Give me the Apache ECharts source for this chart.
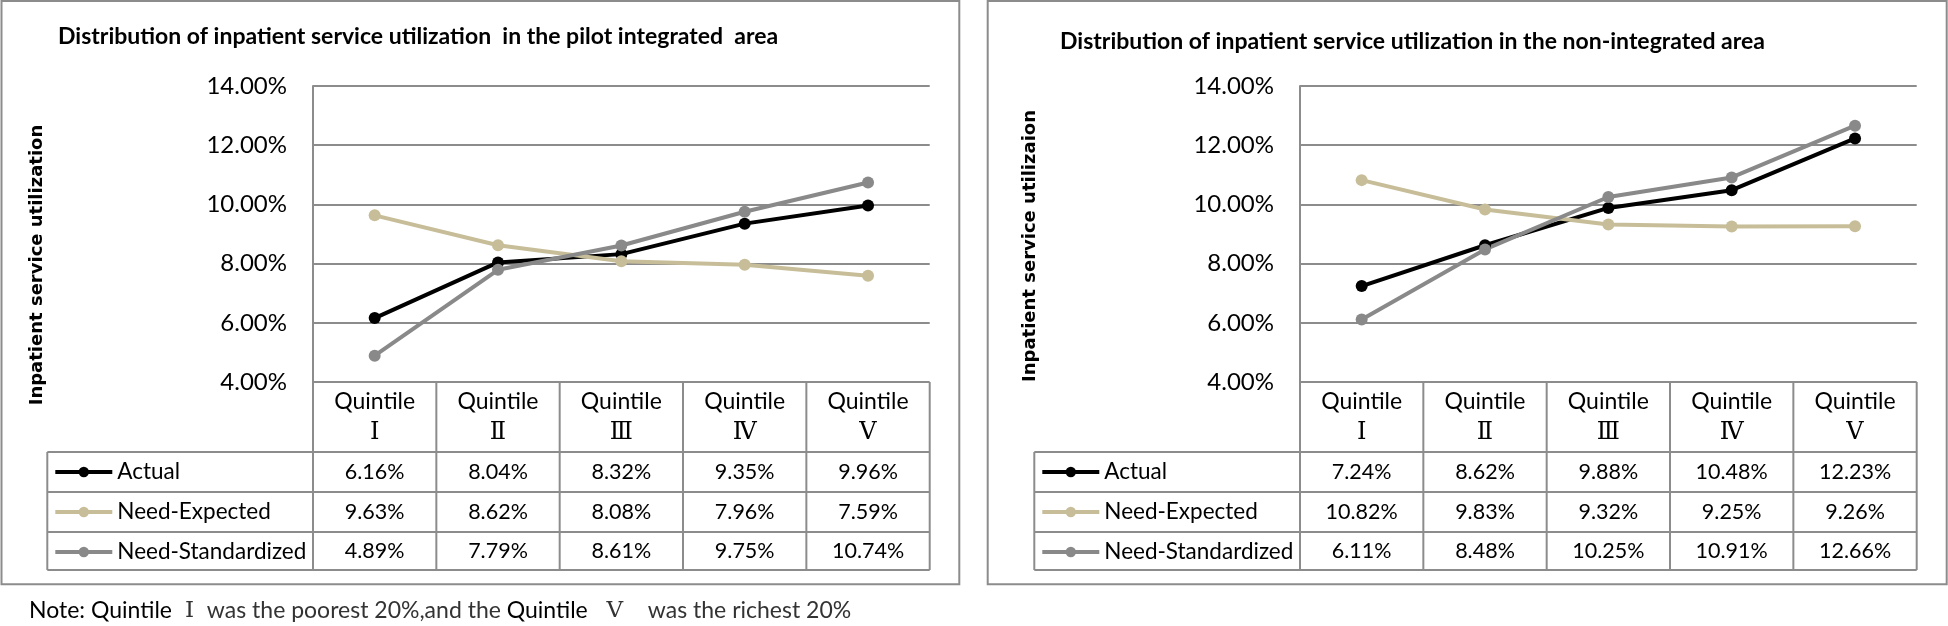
<!DOCTYPE html>
<html><head><meta charset="utf-8">
<script src="https://cdn.jsdelivr.net/npm/echarts@6/dist/echarts.min.js"></script>
<style>html,body{margin:0;padding:0;background:#fff}#c{width:1948px;height:626px}</style>
</head><body><div id="c"></div>
<script>
// ---- data ----
const categories = ['Ⅰ', 'Ⅱ', 'Ⅲ', 'Ⅳ', 'Ⅴ'];
const seriesNames = ['Actual', 'Need-Expected', 'Need-Standardized'];
const pilotActual = [6.16, 8.04, 8.32, 9.35, 9.96];
const pilotNeedExpected = [9.63, 8.62, 8.08, 7.96, 7.59];
const pilotNeedStandardized = [4.89, 7.79, 8.61, 9.75, 10.74];
const nonActual = [7.24, 8.62, 9.88, 10.48, 12.23];
const nonNeedExpected = [10.82, 9.83, 9.32, 9.25, 9.26];
const nonNeedStandardized = [6.11, 8.48, 10.25, 10.91, 12.66];
const yMin = 4, yMax = 14, yStep = 2;
const panelTitles = ['Distribution of inpatient service utilization  in the pilot integrated  area',
                     'Distribution of inpatient service utilization in the non-integrated area'];
const yTitles = ['Inpatient service utilization', 'Inpatient service utilizaion'];
const catPrefix = 'Quintile';

// ---- styles / layout ----
const colors = ['#000000', '#c7be99', '#898989'];
const GRID_C = '#8c8c8c';
const FONT = 'Lato, "Open Sans", sans-serif';
const SERIF = '"DejaVu Serif", "Noto Sans CJK SC", serif';
const panels = [
  { bx: 1.5, bx2: 959.3, gridLeft: 313, tableLeft: 47.3, titleX: 58, titleY: 37, yTitleX: 37, yTitleY: 265 },
  { bx: 987.7, bx2: 1946.7, gridLeft: 1300, tableLeft: 1034.3, titleX: 1060, titleY: 42, yTitleX: 1030, yTitleY: 246 }
];
const gridTop = 86, gridH = 296, gridW = 616.7;
const rowLines = [452, 492, 532, 570];
const panelTop = 1, panelBottom = 584.3;

const dataSets = [
  [pilotActual, pilotNeedExpected, pilotNeedStandardized],
  [nonActual, nonNeedExpected, nonNeedStandardized]
];

const chart = echarts.init(document.getElementById('c'));

const grids = [], xAxes = [], yAxes = [], series = [], legends = [];
panels.forEach((p, g) => {
  grids.push({ left: p.gridLeft, top: gridTop, width: gridW, height: gridH, containLabel: false });
  xAxes.push({
    type: 'category', gridIndex: g, data: categories, boundaryGap: true,
    axisLine: { show: false }, axisTick: { show: false },
    axisLabel: {
      interval: 0, margin: 4, color: '#000', fontFamily: FONT, fontSize: 23, lineHeight: 31,
      formatter: v => catPrefix + '\n{r|' + v + '}',
      rich: { r: { fontFamily: SERIF, fontSize: 24, lineHeight: 31, color: '#000' } }
    }
  });
  yAxes.push({
    type: 'value', gridIndex: g, min: yMin, max: yMax, interval: yStep,
    axisLine: { show: true, lineStyle: { color: GRID_C, width: 2 } },
    axisTick: { show: false },
    splitLine: { show: true, lineStyle: { color: GRID_C, width: 2 } },
    axisLabel: { margin: 26, color: '#000', fontFamily: FONT, fontSize: 24, formatter: v => v.toFixed(2) + '%' }
  });
  seriesNames.forEach((n, k) => {
    series.push({
      name: n, type: 'line', xAxisIndex: g, yAxisIndex: g, data: dataSets[g][k],
      symbol: 'circle', symbolSize: 12, showSymbol: true,
      lineStyle: { color: colors[k], width: 4 },
      itemStyle: { color: colors[k] },
      emphasis: { disabled: true }, animation: false
    });
  });
  legends.push({
    orient: 'vertical', left: p.tableLeft + 6, top: rowLines[0], padding: 0, itemGap: 0,
    itemWidth: 57, itemHeight: 13, data: seriesNames, selectedMode: false,
    lineStyle: { width: 4 },
    textStyle: { fontFamily: FONT, fontSize: 22.5, color: '#000', lineHeight: 40 }
  });
});

chart.setOption({
  backgroundColor: '#fff', animation: false,
  grid: grids, xAxis: xAxes, yAxis: yAxes, series: series, legend: legends
});

// ---- table, borders, titles via graphic ----
const gfx = [];
const line = (x1, y1, x2, y2, c, w) => gfx.push({ type: 'line', silent: true, z: 50,
  shape: { x1, y1, x2, y2 }, style: { stroke: c || GRID_C, lineWidth: w || 2 } });
const text = (x, y, t, st, rot) => gfx.push(Object.assign({ type: 'text', silent: true, z: 60, x, y,
  style: Object.assign({ text: t, fill: '#000', align: 'center', verticalAlign: 'middle' }, st) }, rot ? { rotation: rot } : {}));

panels.forEach((p, g) => {
  gfx.push({ type: 'rect', silent: true, z: 1, shape: { x: p.bx, y: panelTop, width: p.bx2 - p.bx, height: panelBottom - panelTop },
    style: { fill: 'none', stroke: GRID_C, lineWidth: 2 } });
  const centers = categories.map((c, i) => chart.convertToPixel({ xAxisIndex: g }, i));
  const colW = centers[1] - centers[0];
  const bounds = centers.map(c => c - colW / 2).concat([centers[centers.length - 1] + colW / 2]);
  const yAxisBottom = chart.convertToPixel({ yAxisIndex: g }, yMin);
  const tableRight = bounds[bounds.length - 1];
  bounds.forEach(b => line(b, yAxisBottom, b, rowLines[rowLines.length - 1]));
  line(p.tableLeft, rowLines[0], p.tableLeft, rowLines[rowLines.length - 1]);
  rowLines.forEach(r => line(p.tableLeft, r, tableRight, r));
  dataSets[g].forEach((arr, k) => {
    const yc = (rowLines[k] + rowLines[k + 1]) / 2;
    arr.forEach((v, i) => text(centers[i], yc, v.toFixed(2) + '%', { fontFamily: FONT, fontSize: 21.5 }));
  });
  text(p.titleX, p.titleY, panelTitles[g], { align: 'left', fontFamily: FONT, fontWeight: 'bold', fontSize: 23 });
  text(p.yTitleX, p.yTitleY, yTitles[g], { fontFamily: '"DejaVu Sans", sans-serif', fontWeight: 'bold', fontSize: 18 }, Math.PI / 2);
});

// note
gfx.push({ type: 'text', silent: true, x: 29, y: 611, style: {
  text: '{b|Note: Quintile }{r|Ⅰ}{g| was the poorest 20%,and the }{b|Quintile  }{r|Ⅴ}{g|   was the richest 20%}',
  verticalAlign: 'middle', align: 'left',
  rich: {
    b: { fontFamily: FONT, fontSize: 23, fill: '#000' },
    g: { fontFamily: FONT, fontSize: 23, fill: '#333' },
    r: { fontFamily: SERIF, fontSize: 23, fill: '#333', padding: [0, 7, 0, 7] }
  } } });

chart.setOption({ graphic: gfx });
</script></body></html>
